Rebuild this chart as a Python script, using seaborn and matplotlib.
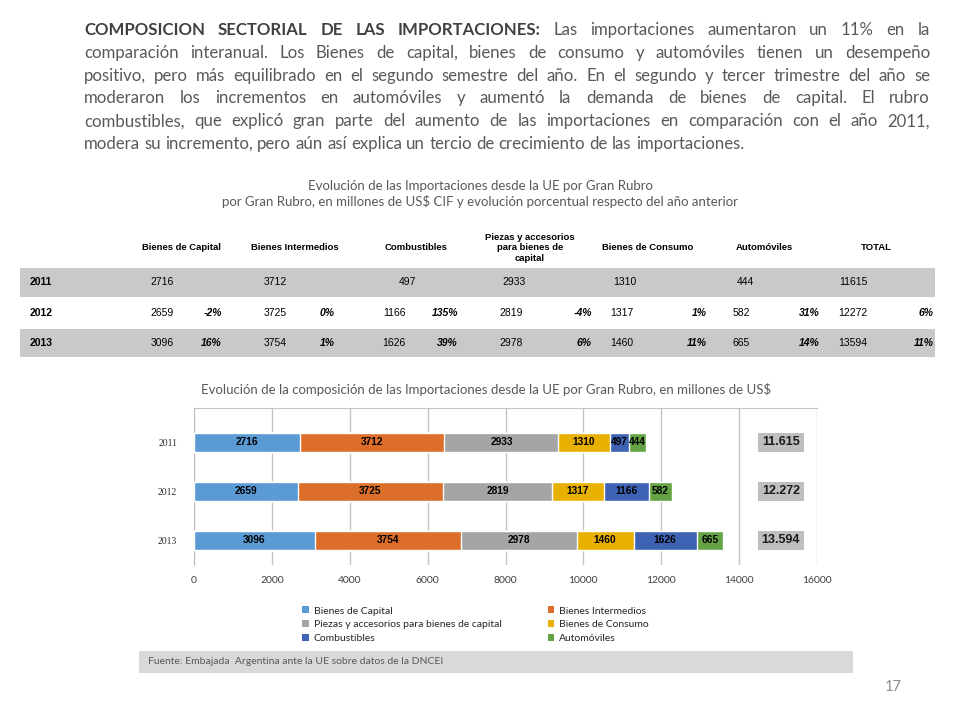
import matplotlib
matplotlib.use("Agg")
import matplotlib.pyplot as plt
from matplotlib.patches import Rectangle, Patch
import numpy as np
import pandas as pd
import seaborn as sns

# ---------------- data ----------------
years = ["2011", "2012", "2013"]
capital = [2716, 2659, 3096]
intermedios = [3712, 3725, 3754]
combustibles = [497, 1166, 1626]
piezas = [2933, 2819, 2978]
consumo = [1310, 1317, 1460]
automoviles = [444, 582, 665]
total = [11615, 12272, 13594]

var_capital = [None, -2, 16]
var_intermedios = [None, 0, 1]
var_combustibles = [None, 135, 39]
var_piezas = [None, -4, 6]
var_consumo = [None, 1, 11]
var_automoviles = [None, 31, 14]
var_total = [None, 6, 11]

table_headers = ["Bienes de Capital", "Bienes Intermedios", "Combustibles",
                 "Piezas y accesorios\npara bienes de\ncapital", "Bienes de Consumo",
                 "Automóviles", "TOTAL"]

chart_series = ["Bienes de Capital", "Bienes Intermedios",
                "Piezas y accesorios para bienes de capital", "Bienes de Consumo",
                "Combustibles", "Automóviles"]
chart_colors = ["#5B9BD5", "#DC6E2A", "#A5A5A5", "#E8B000", "#3E62B4", "#63A344"]

xticks_vals = list(range(0, 16001, 2000))

title_bold = "COMPOSICION SECTORIAL DE LAS IMPORTACIONES:"
title_lines = [
    "Las importaciones aumentaron un 11% en la",
    "comparación interanual. Los Bienes de capital, bienes de consumo y automóviles tienen un desempeño",
    "positivo, pero más equilibrado en el segundo semestre del año. En el segundo y tercer trimestre del año se",
    "moderaron los incrementos en automóviles y aumentó la demanda de bienes de capital.  El rubro",
    "combustibles, que explicó gran parte del aumento de las importaciones en comparación con el año 2011,",
    "modera su incremento, pero aún así explica un tercio de crecimiento de las importaciones.",
]

# ---------------- figure ----------------
sns.set_style("white")
plt.rcParams["font.family"] = ["Lato", "DejaVu Sans"]
W, H = 960, 720
fig = plt.figure(figsize=(9.6, 7.2), dpi=100)
fig.patch.set_facecolor("white")


def P(x, y):
    return x / W, 1 - y / H


def rect(x0, y0, x1, y1, color):
    fig.patches.append(Rectangle((x0 / W, 1 - y1 / H), (x1 - x0) / W, (y1 - y0) / H,
                                 transform=fig.transFigure, facecolor=color,
                                 edgecolor="none", zorder=0))


renderer = fig.canvas.get_renderer()


def width_of(s, **kw):
    t = fig.text(0, 0, s, **kw)
    w = t.get_window_extent(renderer).width
    t.remove()
    return w


# ---- justified paragraph ----
base_fs = 12
last_w = width_of(title_lines[-1], fontsize=base_fs, family=["Lato"])
fs = base_fs * 657 / last_w
x_left, x_right = 84, 930
y0, dy = 30, 22.8
txt_color = "#595959"
for i, line in enumerate(title_lines):
    words = [(w, "normal") for w in line.split()]
    if i == 0:
        words = [(w, "bold") for w in title_bold.split()] + words
    widths = [width_of(w, fontsize=fs, fontweight=wt) for w, wt in words]
    if i < len(title_lines) - 1:
        gap = (x_right - x_left - sum(widths)) / (len(words) - 1)
    else:
        gap = width_of("a b", fontsize=fs) - width_of("ab", fontsize=fs)
    x = x_left
    y = y0 + i * dy
    for (w, wt), wd in zip(words, widths):
        fig.text(*P(x, y), w, fontsize=fs, fontweight=wt,
                 color="#404040" if wt == "bold" else txt_color,
                 ha="left", va="center")
        x += wd + gap

# ---- table ----
fig.text(*P(480, 186), "Evolución de las Importaciones desde la UE por Gran Rubro",
         ha="center", va="center", fontsize=9.5, color="#595959")
fig.text(*P(480, 202), "por Gran Rubro, en millones de US$ CIF y evolución porcentual respecto del año anterior",
         ha="center", va="center", fontsize=9.5, color="#595959")

tfont = ["Liberation Sans", "DejaVu Sans"]
header_x = [181, 295, 416, 530, 648, 764, 876]
for hx, h in zip(header_x, table_headers):
    fig.text(*P(hx, 248), h, ha="center", va="center", fontsize=6.8,
             fontweight="bold", family=tfont, linespacing=1.25, color="black")

rect(20, 268, 935, 297, "#C9C9C9")
rect(20, 329, 935, 357, "#C9C9C9")

row_y = [282, 313, 343]
val_x_2011 = [162, 275, 407, 514, 625, 745, 853]
val_x = [162, 275, 394, 511, 622, 741, 853]
pct_right = [222, 335, 458, 592, 707, 820, 934]
cols_vals = [capital, intermedios, combustibles, piezas, consumo, automoviles, total]
cols_var = [var_capital, var_intermedios, var_combustibles, var_piezas,
            var_consumo, var_automoviles, var_total]
for r, yr in enumerate(years):
    y = row_y[r]
    fig.text(*P(30, y), yr, ha="left", va="center", fontsize=7.5,
             fontweight="bold", family=tfont, color="black")
    xs = val_x_2011 if r == 0 else val_x
    for c in range(7):
        fig.text(*P(xs[c], y), f"{cols_vals[c][r]}", ha="center", va="center",
                 fontsize=7.5, family=tfont, color="black")
        v = cols_var[c][r]
        if v is not None:
            fig.text(*P(pct_right[c], y), f"{v}%", ha="right", va="center",
                     fontsize=7.5, family=tfont, fontweight="bold",
                     style="italic", color="black")

# ---- chart ----
fig.text(*P(486, 389),
         "Evolución de la composición de las Importaciones desde la UE por Gran Rubro, en millones de US$",
         ha="center", va="center", fontsize=9.5, color="#595959")

ax = fig.add_axes([194 / W, 1 - 565 / H, (817 - 194) / W, (565 - 408) / H])
ax.set_facecolor("white")

chart_values = [capital, intermedios, piezas, consumo, combustibles, automoviles]
df = pd.DataFrame({name: vals for name, vals in zip(chart_series, chart_values)}, index=years)
cum = df.cumsum(axis=1)

for name, color in reversed(list(zip(chart_series, chart_colors))):
    d = pd.DataFrame({"year": years, "value": cum[name].values})
    sns.barplot(data=d, x="value", y="year", orient="h", color=color,
                width=0.4, ax=ax, saturation=1, zorder=3)

for i, yr in enumerate(years):
    for name in chart_series:
        v = df.loc[yr, name]
        center = cum.loc[yr, name] - v / 2
        ax.text(center, i, f"{v}", ha="center", va="center", fontsize=7.3,
                fontweight="bold", color="black", family=["Liberation Sans"], zorder=5)
    ax.text(15075, i, f"{total[i]:,}".replace(",", "."), ha="center", va="center",
            fontsize=9, fontweight="bold", family=["Liberation Sans"], color="#1a1a1a",
            bbox=dict(boxstyle="square,pad=0.3", facecolor="#BFBFBF", edgecolor="none"),
            zorder=5)

ax.set_xlim(0, 16000)
ax.set_ylim(2.5, -0.7)
ax.set_xticks(xticks_vals)
ax.set_xticklabels([str(v) for v in xticks_vals])
ax.grid(axis="x", color="#C3C3C3", linewidth=1, zorder=0)
ax.grid(axis="y", visible=False)
ax.set_axisbelow(True)
ax.set_xlabel("")
ax.set_ylabel("")
for s in ["right", "bottom"]:
    ax.spines[s].set_visible(False)
ax.spines["top"].set_color("#C3C3C3")
ax.spines["left"].set_color("#BFBFBF")
ax.tick_params(axis="x", length=0, labelsize=7.5, labelcolor="#404040", pad=8)
ax.tick_params(axis="y", which="major", length=0, pad=12)
for lab in ax.get_yticklabels():
    lab.set_family(["Liberation Serif", "DejaVu Serif"])
    lab.set_fontsize(7)
    lab.set_color("#303030")
ax.set_yticks([-0.5, 0.5, 1.5, 2.5], minor=True)
ax.tick_params(axis="y", which="minor", length=4, color="#BFBFBF", direction="out")

legend_order = [0, 2, 4, 1, 3, 5]
handles = [Patch(facecolor=chart_colors[k], edgecolor="none", label=chart_series[k])
           for k in legend_order]
fig.legend(handles=handles, ncol=2, loc="upper left",
           bbox_to_anchor=(293 / W, 1 - 597 / H), frameon=False, fontsize=7.5,
           handlelength=0.65, handleheight=0.65, handletextpad=0.45,
           columnspacing=4.4, labelspacing=0.45, labelcolor="#262626")

# ---- footer ----
rect(139, 651, 853, 673, "#D9D9D9")
fig.text(*P(148, 662), "Fuente: Embajada  Argentina ante la UE sobre datos de la DNCEI",
         ha="left", va="center", fontsize=7.5, color="#595959")
fig.text(*P(902, 687), "17", ha="right", va="center", fontsize=10.5, color="#8C8C8C")

fig.savefig("out.png", dpi=100, facecolor="white")
